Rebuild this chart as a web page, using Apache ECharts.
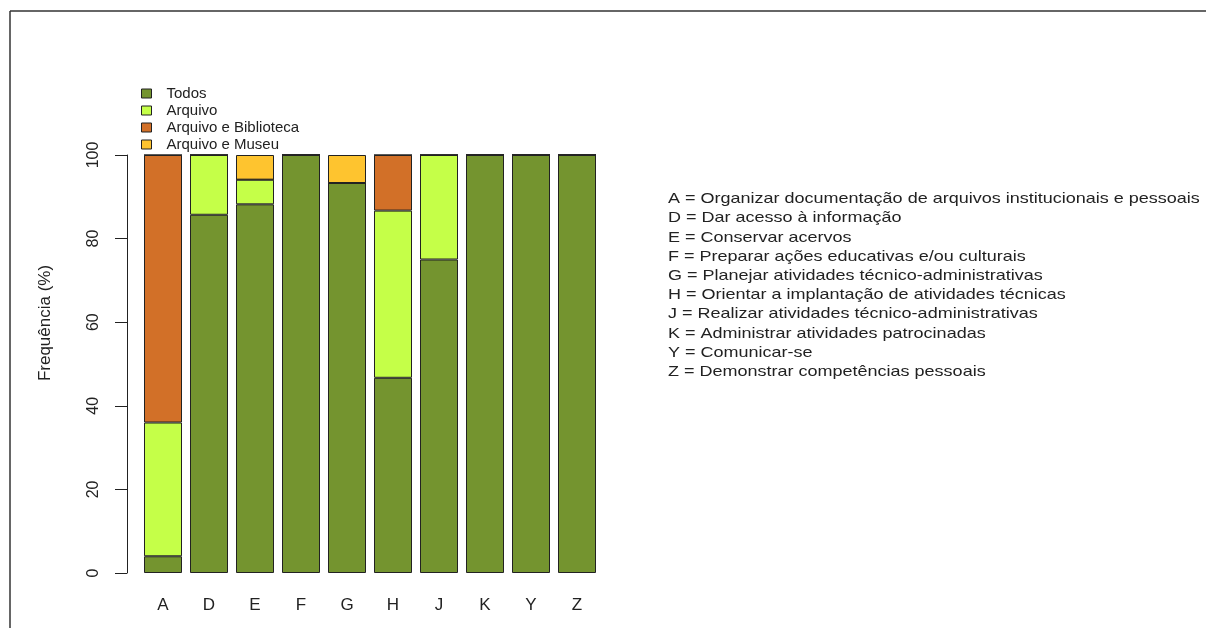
<!DOCTYPE html>
<html>
<head>
<meta charset="utf-8">
<script src="https://cdn.jsdelivr.net/npm/echarts@6/dist/echarts.min.js"></script>
<style>
  html, body { margin: 0; padding: 0; background: #fff; }
  #main { width: 1206px; height: 628px; }
</style>
</head>
<body>
<div id="main"></div>
<script>
// categorias (competências)
var categorias = ['A', 'D', 'E', 'F', 'G', 'H', 'J', 'K', 'Y', 'Z'];
// frequência (%) por grupo
var todos = [4, 85.7, 88.2, 100, 93.3, 46.7, 75, 100, 100, 100];
var arquivo = [32, 14.3, 5.9, 0, 0, 40, 25, 0, 0, 0];
var arqBiblioteca = [64, 0, 0, 0, 0, 13.3, 0, 0, 0, 0];
var arqMuseu = [0, 0, 5.9, 0, 6.7, 0, 0, 0, 0, 0];
var yTicks = [0, 20, 40, 60, 80, 100];
var legenda = [
  'A = Organizar documentação de arquivos institucionais e pessoais',
  'D = Dar acesso à informação',
  'E = Conservar acervos',
  'F = Preparar ações educativas e/ou culturais',
  'G = Planejar atividades técnico-administrativas',
  'H = Orientar a implantação de atividades técnicas',
  'J = Realizar atividades técnico-administrativas',
  'K = Administrar atividades patrocinadas',
  'Y = Comunicar-se',
  'Z = Demonstrar competências pessoais'
];

var font = 'Liberation Sans, Arial, sans-serif';
var chart = echarts.init(document.getElementById('main'));

function serie(nome, dados, cor) {
  return {
    name: nome,
    type: 'bar',
    stack: 'total',
    data: dados,
    barWidth: 38,
    itemStyle: { color: cor, borderColor: '#222', borderWidth: 1 },
    emphasis: { disabled: true }
  };
}

// textos da direita (esticados na horizontal como no original)
var textos = legenda.map(function (t, i) {
  return {
    type: 'text',
    x: 668,
    y: 199 + i * 19.2,
    scaleX: 1.2,
    style: { text: t, font: '15px ' + font, fill: '#222', verticalAlign: 'middle' }
  };
});

chart.setOption({
  backgroundColor: '#fff',
  animation: false,
  textStyle: { fontFamily: font },
  grid: { left: 140, top: 155, width: 460, height: 418 },
  legend: {
    orient: 'vertical',
    left: 141,
    top: 86,
    padding: 0,
    icon: 'rect',
    itemWidth: 10,
    itemHeight: 9,
    itemGap: 2,
    itemStyle: { borderColor: '#222', borderWidth: 1 },
    textStyle: { fontSize: 15, lineHeight: 15, color: '#222', padding: [0, 0, 0, 10] },
    data: ['Todos', 'Arquivo', 'Arquivo e Biblioteca', 'Arquivo e Museu']
  },
  xAxis: {
    type: 'category',
    data: categorias,
    axisLine: { show: false },
    axisTick: { show: false },
    axisLabel: { fontSize: 17, color: '#222', margin: 24 }
  },
  yAxis: {
    type: 'value',
    min: 0,
    max: 100,
    interval: 20,
    offset: 13,
    axisLine: { show: true, lineStyle: { color: '#222', width: 1 } },
    axisTick: { show: true, length: 12, lineStyle: { color: '#222' } },
    splitLine: { show: false },
    axisLabel: {
      fontSize: 16, color: '#222', rotate: 90, margin: 25,
      formatter: function (v) { return yTicks.indexOf(v) >= 0 ? String(v) : ''; }
    }
  },
  series: [
    serie('Todos', todos, '#74942F'),
    serie('Arquivo', arquivo, '#C5FF48'),
    serie('Arquivo e Biblioteca', arqBiblioteca, '#D27028'),
    serie('Arquivo e Museu', arqMuseu, '#FEC42F')
  ],
  graphic: [
    { type: 'line', shape: { x1: 10, y1: 11, x2: 1206, y2: 11 }, style: { stroke: '#333', lineWidth: 1.5 } },
    { type: 'line', shape: { x1: 10, y1: 11, x2: 10, y2: 628 }, style: { stroke: '#333', lineWidth: 1.5 } },
    {
      type: 'text', x: 45, y: 323, rotation: Math.PI / 2,
      style: { text: 'Frequência (%)', font: '17px ' + font, fill: '#222', align: 'center', verticalAlign: 'middle' }
    }
  ].concat(textos)
});
</script>
</body>
</html>
